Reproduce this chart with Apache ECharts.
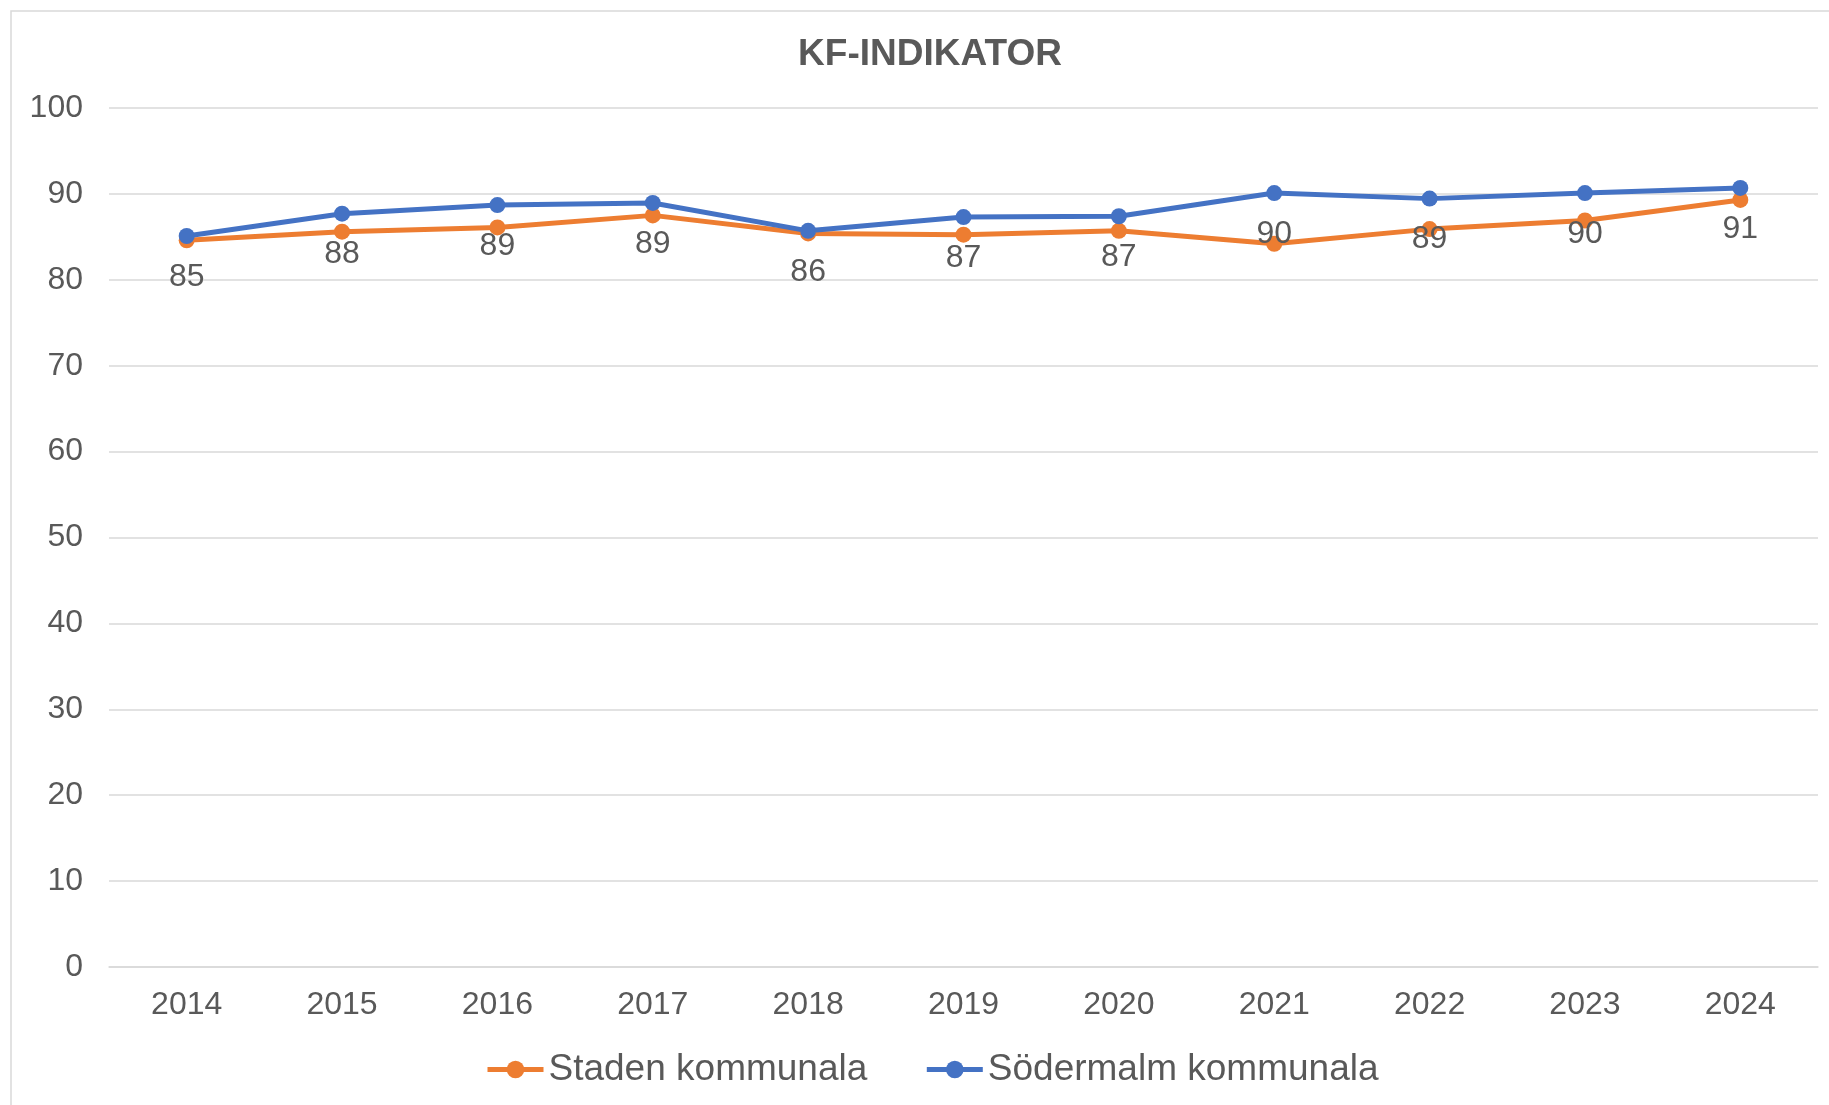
<!DOCTYPE html>
<html>
<head>
<meta charset="utf-8">
<script src="https://cdn.jsdelivr.net/npm/echarts@6/dist/echarts.min.js"></script>
<style>
html,body{margin:0;padding:0;background:#fff;}
#chart{width:1829px;height:1105px;}
</style>
</head>
<body>
<div id="chart"></div>
<script>
const categories = ['2014','2015','2016','2017','2018','2019','2020','2021','2022','2023','2024'];
const stadenValues = [84.6, 85.6, 86.1, 87.5, 85.4, 85.25, 85.7, 84.2, 85.9, 86.9, 89.3];
const sodermalmValues = [85.1, 87.7, 88.7, 88.95, 85.7, 87.3, 87.4, 90.1, 89.45, 90.1, 90.7];
const seriesNames = ['Staden kommunala', 'Södermalm kommunala'];
const titleText = 'KF-INDIKATOR';

const FONT = '"Liberation Sans", Arial, sans-serif';
const TXT = '#595959';

const chart = echarts.init(document.getElementById('chart'), null, {renderer: 'canvas'});
chart.setOption({
  animation: false,
  backgroundColor: '#fff',
  textStyle: {fontFamily: FONT},
  graphic: [{
    type: 'rect', silent: true, z: -10,
    shape: {x: 11, y: 11, width: 1900, height: 1200},
    style: {fill: 'none', stroke: '#d9d9d9', lineWidth: 1.5}
  }],
  title: {
    text: titleText,
    left: 930, top: 36, padding: 0,
    textAlign: 'center',
    textStyle: {fontFamily: FONT, fontSize: 37, fontWeight: 'bold', color: TXT}
  },
  legend: {
    left: 485, top: 1051, padding: 0,
    itemWidth: 56, itemHeight: 22, itemGap: 57,
    lineStyle: {width: 5},
    textStyle: {fontFamily: FONT, fontSize: 37, color: TXT},
    data: seriesNames
  },
  grid: {left: 109, right: 11, top: 108, bottom: 138, containLabel: false},
  xAxis: {
    type: 'category',
    data: categories,
    boundaryGap: true,
    axisLine: {show: true, lineStyle: {color: '#d9d9d9', width: 1.5}},
    axisTick: {show: false},
    axisLabel: {fontFamily: FONT, fontSize: 32, color: TXT, margin: 22}
  },
  yAxis: {
    type: 'value',
    min: 0, max: 100, interval: 10,
    axisLine: {show: false},
    axisTick: {show: false},
    splitLine: {lineStyle: {color: '#d9d9d9', width: 1.5}},
    axisLabel: {fontFamily: FONT, fontSize: 32, color: TXT, margin: 26}
  },
  series: [
    {
      name: seriesNames[0],
      type: 'line',
      data: stadenValues,
      symbol: 'circle',
      symbolSize: 16,
      color: '#ED7D31',
      lineStyle: {width: 5, color: '#ED7D31'},
      itemStyle: {color: '#ED7D31'}
    },
    {
      name: seriesNames[1],
      type: 'line',
      data: sodermalmValues,
      symbol: 'circle',
      symbolSize: 16,
      color: '#4472C4',
      lineStyle: {width: 5, color: '#4472C4'},
      itemStyle: {color: '#4472C4'},
      label: {
        show: true,
        position: 'bottom',
        distance: 17,
        fontFamily: FONT,
        fontSize: 32,
        color: TXT,
        formatter: p => Math.round(p.value)
      }
    }
  ]
});
</script>
</body>
</html>
